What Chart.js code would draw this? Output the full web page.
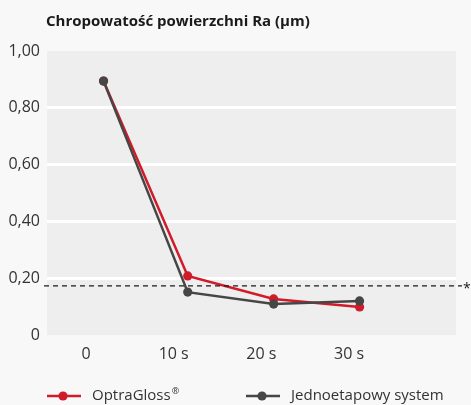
<!DOCTYPE html>
<html><head><meta charset="utf-8">
<script src="https://cdn.jsdelivr.net/npm/chart.js@4"></script>
<style>html,body{margin:0;padding:0;background:#f8f8f8;} #wrap{width:471px;height:405px;position:relative}</style>
</head><body><div id="wrap"><canvas id="c" width="471" height="405"></canvas></div>
<script>
const chartTitle = 'Chropowatość powierzchni Ra (µm)';
const seriesNames = ['OptraGloss®', 'Jednoetapowy system'];
const timeTicks = [0, 10, 20, 30];
const timeLabels = ['0', '10 s', '20 s', '30 s'];
const pointTimes = [2.0, 11.6, 21.4, 31.2];
const optraGloss = [0.894, 0.208, 0.127, 0.099];
const oneStep = [0.894, 0.151, 0.109, 0.120];
const yTicks = [0, 0.2, 0.4, 0.6, 0.8, 1.0];
const yLabels = ['0', '0,20', '0,40', '0,60', '0,80', '1,00'];
const threshold = 0.173;

const RED = '#d11a2a', GREY = '#464646';
const FONT = '"Open Sans", "Noto Sans", sans-serif';

function toPoints(vals){ return vals.map((v,i)=>({x: pointTimes[i], y: v})); }

const decorPlugin = {
  id: 'decor',
  beforeDraw(chart){
    const {ctx, chartArea:a} = chart;
    ctx.save();
    ctx.fillStyle = '#f8f8f8';
    ctx.fillRect(0,0,chart.width,chart.height);
    ctx.fillStyle = '#eeeeee';
    ctx.fillRect(a.left, a.top, a.right-a.left, a.bottom-a.top);
    ctx.fillStyle = '#1a1a1a';
    ctx.font = 'bold 15px ' + FONT;
    ctx.textBaseline = 'middle';
    ctx.textAlign = 'left';
    ctx.fillText(chartTitle, 46, 22);
    ctx.restore();
  },
  afterDatasetsDraw(chart){
    const {ctx, chartArea:a} = chart;
    const y = chart.scales.y.getPixelForValue(threshold);
    ctx.save();
    ctx.strokeStyle = '#1a1a1a';
    ctx.lineWidth = 1.4;
    ctx.setLineDash([5,4]);
    ctx.beginPath();
    ctx.moveTo(a.left-3, y);
    ctx.lineTo(a.right+6, y);
    ctx.stroke();
    ctx.setLineDash([]);
    ctx.fillStyle = '#1a1a1a';
    ctx.font = '14px ' + FONT;
    ctx.textBaseline = 'middle';
    ctx.textAlign = 'left';
    ctx.fillText('*', a.right+7, y+3);
    ctx.restore();
  },
  afterDraw(chart){
    const {ctx} = chart;
    const xs = [47, 246];
    const ly = 396;
    ctx.save();
    chart.data.datasets.forEach((ds, i)=>{
      const x0 = xs[i];
      ctx.strokeStyle = ds.borderColor;
      ctx.lineWidth = 2.5;
      ctx.beginPath(); ctx.moveTo(x0, ly); ctx.lineTo(x0+34, ly); ctx.stroke();
      ctx.fillStyle = ds.borderColor;
      ctx.beginPath(); ctx.arc(x0+16, ly, 4.6, 0, Math.PI*2); ctx.fill();
      ctx.fillStyle = '#333';
      ctx.font = '15px ' + FONT;
      ctx.textBaseline = 'middle';
      ctx.textAlign = 'left';
      let txt = ds.label, sup = '';
      if (txt.endsWith('®')) { sup = '®'; txt = txt.slice(0, -1); }
      ctx.fillText(txt, x0+45, ly);
      if (sup) {
        const w = ctx.measureText(txt).width;
        ctx.font = '9px ' + FONT;
        ctx.fillText(sup, x0+45+w+1, ly-5);
      }
    });
    ctx.restore();
  }
};

new Chart(document.getElementById('c'), {
  type: 'line',
  data: {
    datasets: [
      {label: seriesNames[0], data: toPoints(optraGloss), borderColor: RED, backgroundColor: RED,
       pointBackgroundColor: RED, pointBorderColor: RED, borderWidth: 2.5, pointRadius: 4.6, pointBorderWidth: 0, order: 1},
      {label: seriesNames[1], data: toPoints(oneStep), borderColor: GREY, backgroundColor: GREY,
       pointBackgroundColor: GREY, pointBorderColor: GREY, borderWidth: 2.5, pointRadius: 4.6, pointBorderWidth: 0, order: 0}
    ]
  },
  options: {
    responsive: false,
    devicePixelRatio: 1,
    animation: false,
    layout: {padding: {top: 51, right: 15, left: 0, bottom: 0}},
    plugins: {legend: {display: false}, tooltip: {enabled: false}, title: {display: false}},
    scales: {
      x: {
        type: 'linear', min: -4.45, max: 42.2,
        afterBuildTicks(s){ s.ticks = timeTicks.map(v=>({value: v})); },
        afterFit(s){ s.height = 70; },
        grid: {display: false, drawTicks: false},
        border: {display: false},
        ticks: {
          padding: 10, color: '#333', font: {family: FONT, size: 16},
          callback(v){ const i = timeTicks.indexOf(v); return i >= 0 ? timeLabels[i] : ''; }
        }
      },
      y: {
        min: 0, max: 1,
        afterBuildTicks(s){ s.ticks = yTicks.map(v=>({value: v})); },
        afterFit(s){ s.width = 47; },
        grid: {
          drawTicks: false, lineWidth: 3,
          color(c){ const v = c.tick ? c.tick.value : 0; return (v <= 0.001 || v >= 0.999) ? 'rgba(0,0,0,0)' : '#ffffff'; }
        },
        border: {display: false},
        ticks: {
          padding: 7, color: '#333', font: {family: FONT, size: 16},
          callback(v){ const i = yTicks.findIndex(t => Math.abs(t - v) < 1e-6); return i >= 0 ? yLabels[i] : ''; }
        }
      }
    }
  },
  plugins: [decorPlugin]
});
</script></body></html>
